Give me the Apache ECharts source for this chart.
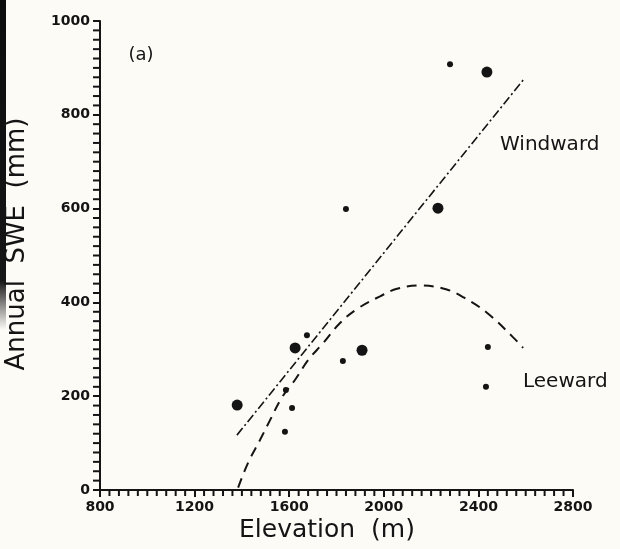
<!DOCTYPE html>
<html>
<head>
<meta charset="utf-8">
<script src="https://cdn.jsdelivr.net/npm/echarts@6/dist/echarts.min.js"></script>
<style>
  html, body { margin: 0; padding: 0; background: #fcfbf6; }
  #chart { width: 620px; height: 549px; }
</style>
</head>
<body>
<div id="chart"></div>
<script>
// big dots (elevation m, SWE mm)
const bigX = [1380, 1625, 1908, 2229, 2436];
const bigY = [181, 303, 298, 601, 891];
// small dots
const smallX = [1582, 1586, 1612, 1675, 1827, 1840, 2280, 2432, 2440];
const smallY = [124, 213, 175, 330, 275, 599, 908, 220, 305];
// windward fit line (end points)
const windX = [1379, 2589];
const windY = [117, 874];
// leeward curve
const leeX = [1384, 1426, 1477, 1519, 1570, 1625, 1680, 1743, 1815, 1887, 1984, 2056, 2153, 2263, 2340, 2436, 2546, 2589];
const leeY = [5, 58, 107, 149, 198, 235, 277, 313, 356, 386, 413, 429, 436, 428, 410, 378, 326, 303];

function pairs(xs, ys) {
  return xs.map((x, i) => [x, ys[i]]);
}

// minor tick positions along the axes (40 m / 20 mm steps)
const minorX = [];
for (let v = 840; v < 2800; v += 40) if (v % 400 !== 0) minorX.push([v, 0]);
const minorY = [];
for (let v = 20; v < 1000; v += 20) if (v % 200 !== 0) minorY.push([800, v]);

const ink = '#141414';
const font = 'DejaVu Sans';
const plain = v => String(v);

let myChart = echarts.init(document.getElementById('chart'));
myChart.setOption({
  backgroundColor: '#fcfbf6',
  animation: false,
  grid: { left: 100, right: 47, top: 21, bottom: 59 },
  xAxis: {
    type: 'value',
    min: 800, max: 2800, interval: 400,
    splitLine: { show: false },
    axisLine: { onZero: false, lineStyle: { color: ink, width: 2 } },
    axisTick: { length: 7, lineStyle: { color: ink, width: 2 } },
    axisLabel: { color: ink, fontFamily: font, fontWeight: 'bold', fontSize: 14, margin: 10, formatter: plain }
  },
  yAxis: {
    type: 'value',
    min: 0, max: 1000, interval: 200,
    splitLine: { show: false },
    axisLine: { show: true, lineStyle: { color: ink, width: 2 } },
    axisTick: { show: true, length: 7, lineStyle: { color: ink, width: 2 } },
    axisLabel: { color: ink, fontFamily: font, fontWeight: 'bold', fontSize: 14, margin: 10, formatter: plain }
  },
  series: [
    {
      type: 'scatter', data: minorX, silent: true, clip: false,
      symbol: 'rect', symbolSize: [2, 5], symbolOffset: [0, 3.5],
      itemStyle: { color: ink, opacity: 1 }
    },
    {
      type: 'scatter', data: minorY, silent: true, clip: false,
      symbol: 'rect', symbolSize: [6, 2], symbolOffset: [-4, 0],
      itemStyle: { color: ink, opacity: 1 }
    },
    {
      type: 'line',
      data: pairs(windX, windY),
      symbol: 'none',
      lineStyle: { color: ink, width: 1.6, type: [9, 3, 2, 3] }
    },
    {
      type: 'line',
      data: pairs(leeX, leeY),
      smooth: 0.4,
      symbol: 'none',
      lineStyle: { color: ink, width: 2, type: [10, 7] }
    },
    {
      type: 'scatter',
      data: pairs(bigX, bigY),
      symbolSize: 11,
      itemStyle: { color: ink, opacity: 1 }
    },
    {
      type: 'scatter',
      data: pairs(smallX, smallY),
      symbolSize: 6,
      itemStyle: { color: ink, opacity: 1 }
    }
  ],
  graphic: [
    {
      type: 'rect',
      shape: { x: 0, y: 0, width: 6, height: 330 },
      style: {
        fill: new echarts.graphic.LinearGradient(0, 0, 0, 1, [
          { offset: 0, color: '#0c0c0c' },
          { offset: 0.85, color: '#161616' },
          { offset: 1, color: 'rgba(30,30,30,0)' }
        ])
      }
    },
    {
      type: 'text', x: 141, y: 55,
      style: { text: '(a)', font: '18px ' + font, fill: ink, align: 'center', verticalAlign: 'middle' }
    },
    {
      type: 'text', x: 500, y: 145,
      style: { text: 'Windward', font: '20px ' + font, fill: ink, align: 'left', verticalAlign: 'middle' }
    },
    {
      type: 'text', x: 523, y: 382,
      style: { text: 'Leeward', font: '20px ' + font, fill: ink, align: 'left', verticalAlign: 'middle' }
    },
    {
      type: 'text', x: 327, y: 530,
      style: { text: 'Elevation  (m)', font: '25px ' + font, fill: ink, align: 'center', verticalAlign: 'middle' }
    },
    {
      type: 'text', x: 17, y: 244, rotation: Math.PI / 2,
      style: { text: 'Annual  SWE  (mm)', font: '26px ' + font, fill: ink, align: 'center', verticalAlign: 'middle' }
    }
  ]
});
</script>
</body>
</html>
